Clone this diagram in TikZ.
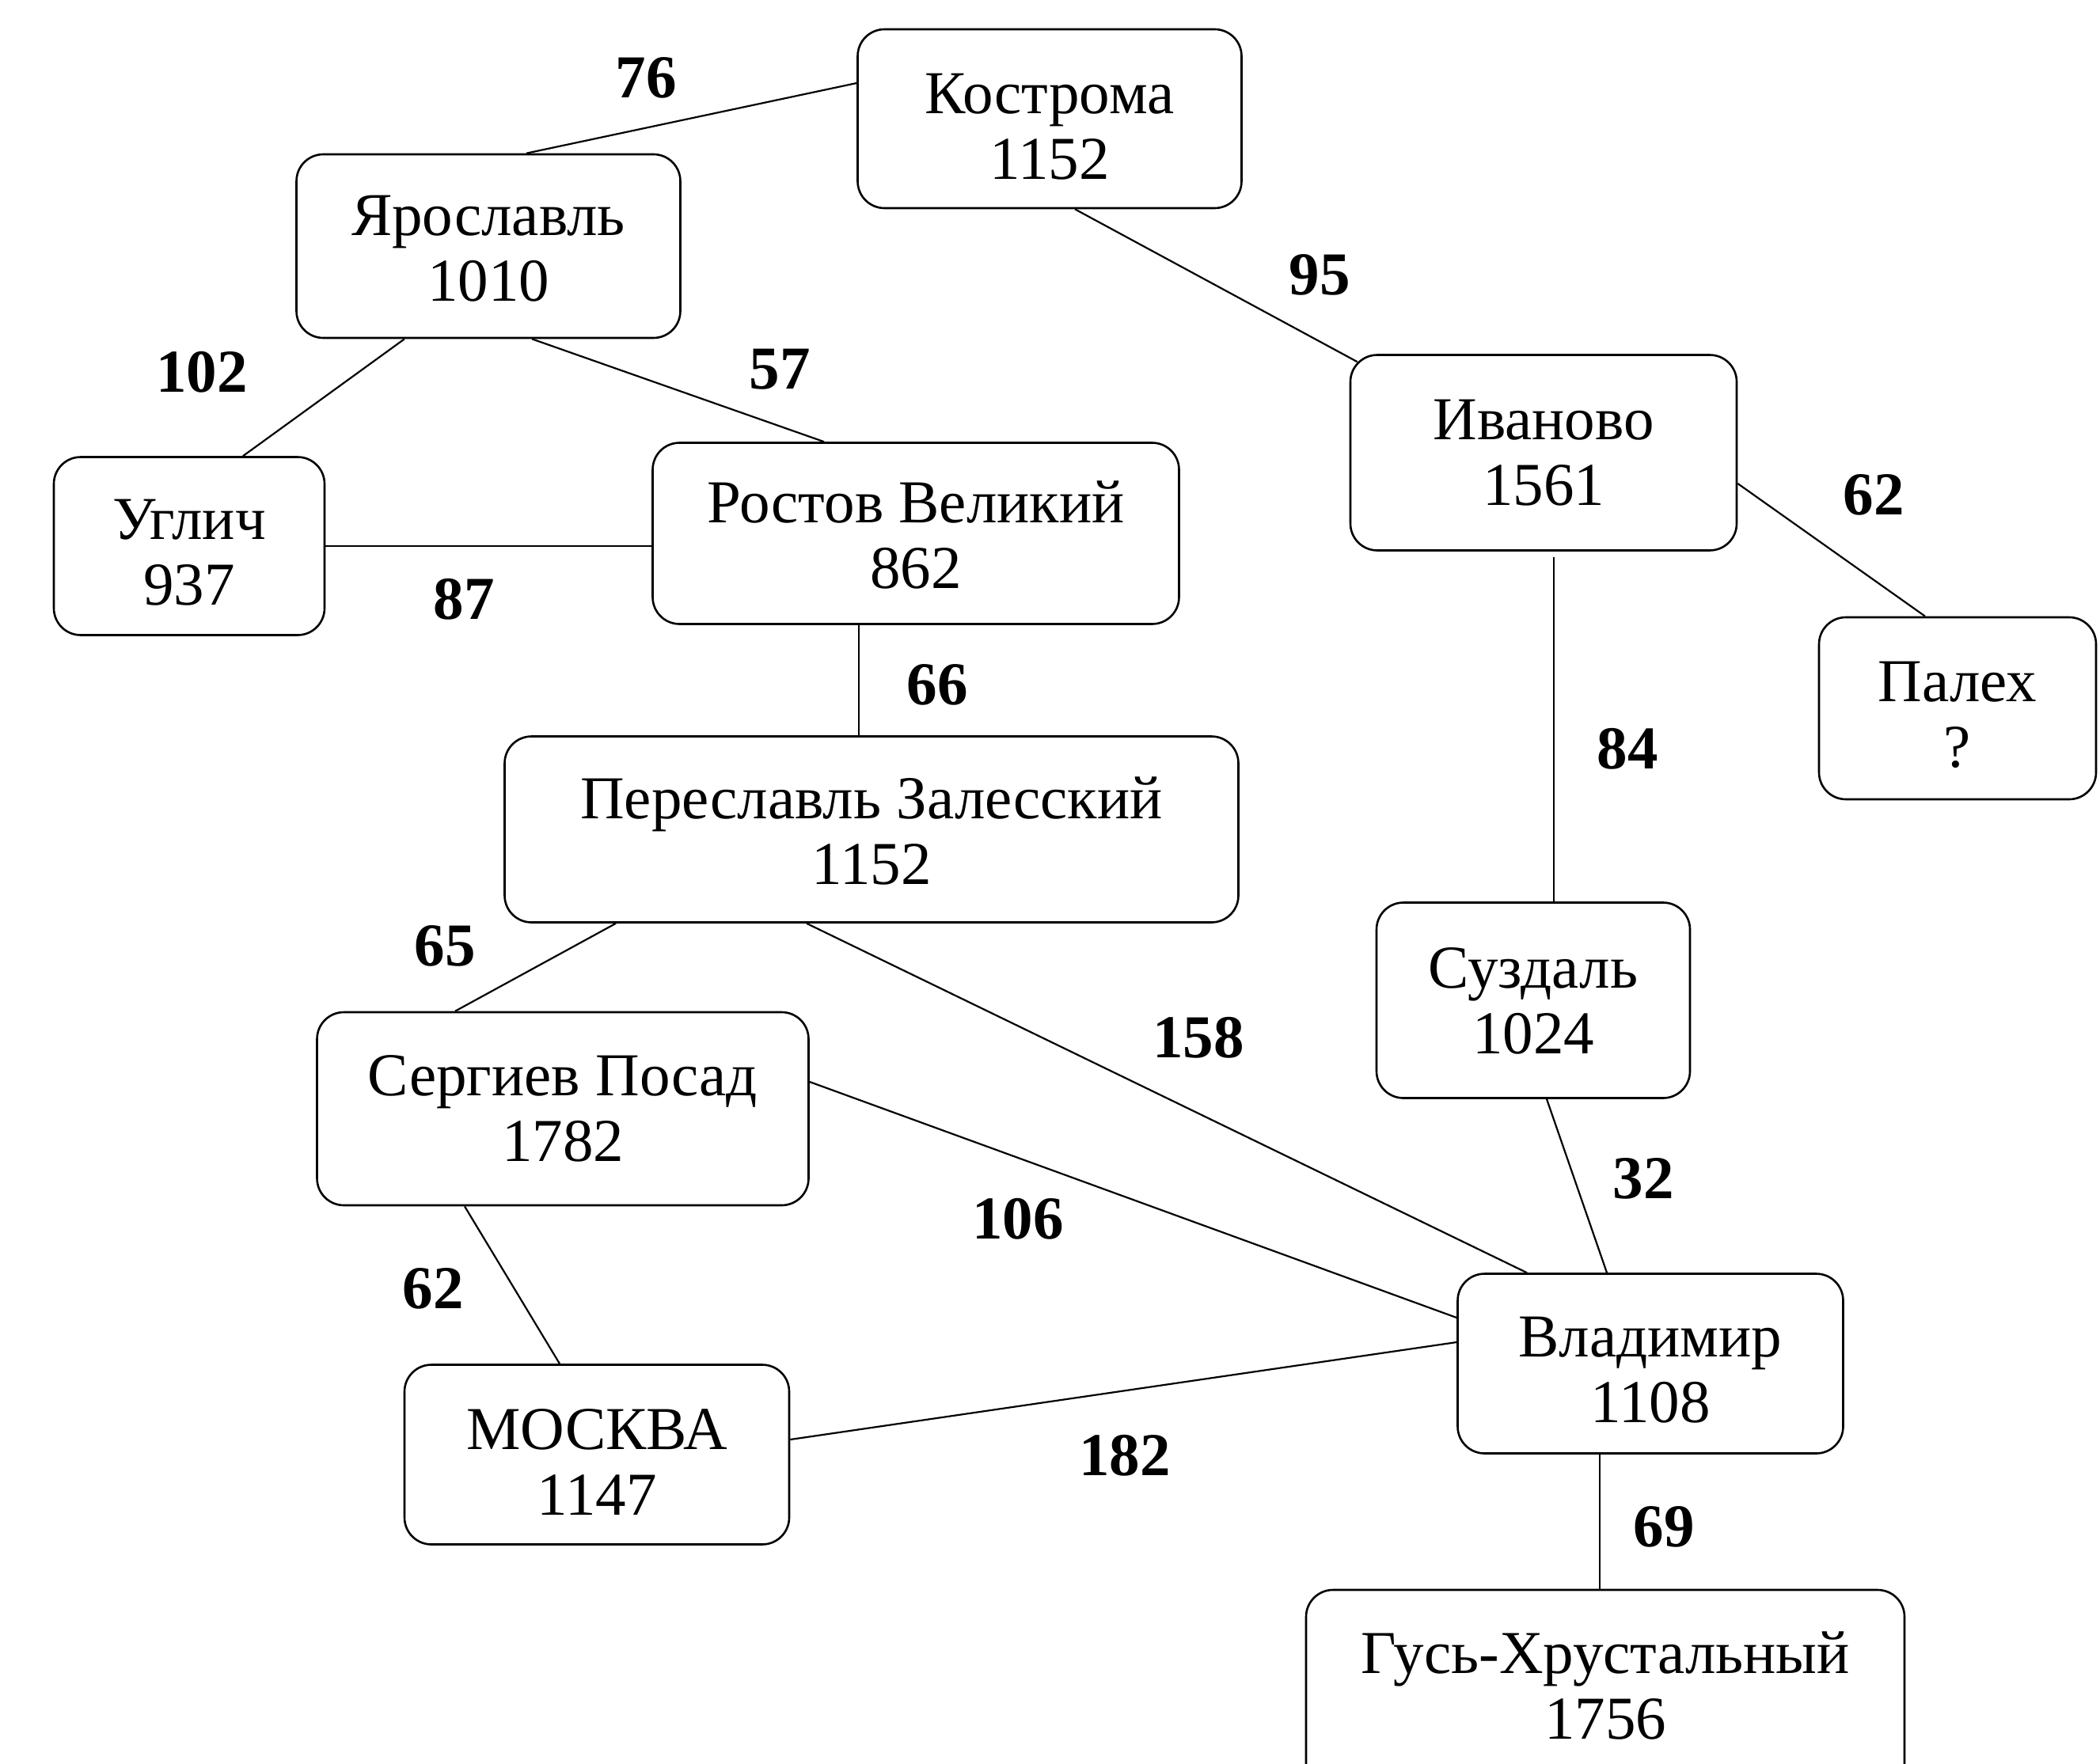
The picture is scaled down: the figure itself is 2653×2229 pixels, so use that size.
\documentclass[tikz,border=0pt]{standalone}
\usepackage{fontspec}
\setmainfont{Liberation Serif}
\usetikzlibrary{calc}
\newcommand\citylift[1]{\rule{0pt}{#1pt}}
\newcommand\citydrop[1]{\rule[-#1pt]{0pt}{#1pt}}
\tikzset{
 city/.style={draw, rounded corners=34pt, line width=2.6pt, align=center, inner sep=0pt, font=\fontsize{77}{83}\selectfont},
 dist/.style={font=\fontsize{77}{83}\selectfont\bfseries, inner sep=0pt},
 road/.style={line width=2.2pt}
}
\begin{document}
\begin{tikzpicture}[x=1pt,y=-1pt]
\useasboundingbox[fill=white] (0,0) rectangle (2653,2229);
\clip (0,0) rectangle (2653,2229);
% cities
\node[city, minimum width=485pt, minimum height=226pt] (kos) at (1326,150) {\citylift{71}Кострома\\1152};
\node[city, minimum width=485pt, minimum height=232pt] (yar) at (617,311) {\citylift{57}Ярославль\\1010};
\node[city, minimum width=342pt, minimum height=225pt] (ugl) at (239,690) {\citylift{66}Углич\\937};
\node[city, minimum width=665pt, minimum height=229pt] (rost) at (1157,674) {\citylift{57}Ростов Великий\\862};
\node[city, minimum width=488pt, minimum height=247pt] (iv) at (1950,572) {\citylift{51}Иваново\\1561};
\node[city, minimum width=350pt, minimum height=230pt] (pal) at (2473,895) {\citylift{67}Палех\\?};
\node[city, minimum width=927pt, minimum height=235pt] (per) at (1101,1048) {\citylift{57}Переславль Залесский\\1152};
\node[city, minimum width=396pt, minimum height=247pt] (sz) at (1937,1264) {\citylift{52}Суздаль\\1024};
\node[city, minimum width=621pt, minimum height=244pt] (serg) at (711,1401) {\citylift{51}Сергиев Посад\\1782};
\node[city, minimum width=487pt, minimum height=227pt] (vl) at (2085,1723) {\citylift{67}Владимир\\1108};
\node[city, minimum width=486pt, minimum height=227pt] (msk) at (754,1838) {\citylift{69}МОСКВА\\1147};
\node[city, minimum width=756pt, minimum height=262pt] (gus) at (2028,2140) {\citylift{70}Гусь-Хрустальный\\1756\citydrop{39}};
% helper points
\coordinate (r6) at ([xshift=-72pt]rost.south);
\coordinate (r8) at ([xshift=26pt]sz.north);
\coordinate (r15) at ([xshift=-64pt]vl.south);
% roads
\draw[road] ([xshift=48pt]yar.north) -- ([yshift=45pt]kos.west);
\draw[road] ([xshift=32pt]kos.south) -- ([shift={(10pt,-10pt)}]iv.north west);
\draw[road] ([xshift=-106pt]yar.south) -- ([xshift=68pt]ugl.north);
\draw[road] ([xshift=55pt]yar.south) -- ([xshift=-116pt]rost.north);
\draw[road] (ugl.east) -- (ugl.east -| rost.west);
\draw[road] (r6) -- (r6 |- per.north);
\draw[road] ([yshift=-39pt]iv.east) -- ([xshift=-41pt]pal.north);
\draw[road] (r8) -- ([yshift=-7pt]r8 |- iv.south);
\draw[road] ([xshift=-323pt]per.south) -- ([xshift=-136pt]serg.north);
\draw[road] ([xshift=-82pt]per.south) -- ([xshift=-156pt]vl.north);
\draw[road] ([xshift=17pt]sz.south) -- ([xshift=-55pt]vl.north);
\draw[road] ([yshift=34pt]serg.east) -- ([yshift=58pt]vl.west);
\draw[road] ([xshift=-124pt]serg.south) -- ([xshift=-47pt]msk.north);
\draw[road] ([yshift=19pt]msk.east) -- ([yshift=27pt]vl.west);
\draw[road] (r15) -- (r15 |- gus.north);
% distances
\node[dist] (d76) at (816,98) {76};
\node[dist] (d95) at (1667,347) {95};
\node[dist] (d102) at (255,470) {102};
\node[dist] (d57) at (985,467) {57};
\node[dist] (d87) at (586,757) {87};
\node[dist] (d66) at (1184,865) {66};
\node[dist] (d62a) at (2367,625) {62};
\node[dist] (d84) at (2056,946) {84};
\node[dist] (d65) at (562,1195) {65};
\node[dist] (d158) at (1514,1311) {158};
\node[dist] (d32) at (2076,1489) {32};
\node[dist] (d106) at (1286,1540) {106};
\node[dist] (d62b) at (547,1628) {62};
\node[dist] (d182) at (1421,1839) {182};
\node[dist] (d69) at (2102,1929) {69};
\end{tikzpicture}
\end{document}
